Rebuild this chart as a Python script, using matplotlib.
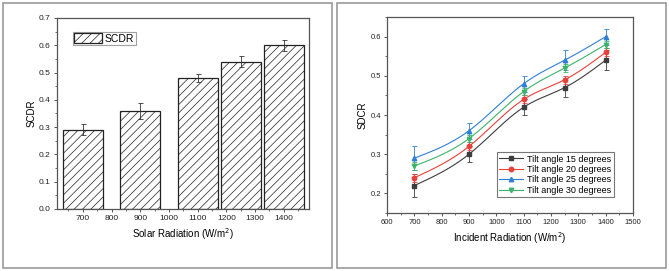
import numpy as np
import matplotlib
matplotlib.use("Agg")
from matplotlib import pyplot as plt
from matplotlib.patches import Rectangle
from matplotlib.ticker import MultipleLocator

plt.rcParams['font.family'] = ['Liberation Sans', 'DejaVu Sans']

# left panel: bar chart
bar_x = [700, 900, 1100, 1250, 1400]
bar_scdr = [0.29, 0.36, 0.48, 0.54, 0.60]
bar_err = [0.02, 0.03, 0.015, 0.02, 0.02]

# right panel: lines
rad = [700, 900, 1100, 1250, 1400]
tilt15 = [0.22, 0.30, 0.42, 0.47, 0.54]
tilt20 = [0.24, 0.32, 0.44, 0.49, 0.56]
tilt25 = [0.29, 0.36, 0.48, 0.54, 0.60]
tilt30 = [0.27, 0.34, 0.46, 0.52, 0.58]
err15 = [0.03, 0.02, 0.02, 0.025, 0.025]
err20 = [0.01, 0.01, 0.01, 0.01, 0.01]
err25 = [0.03, 0.02, 0.02, 0.025, 0.02]
err30 = [0.01, 0.01, 0.01, 0.01, 0.01]
labels = ['Tilt angle 15 degrees', 'Tilt angle 20 degrees',
          'Tilt angle 25 degrees', 'Tilt angle 30 degrees']


def spline(x, y, n=200):
    # natural cubic spline through the points, for drawing the curve
    x = np.asarray(x, float)
    y = np.asarray(y, float)
    k = len(x)
    h = np.diff(x)
    A = np.zeros((k, k))
    b = np.zeros(k)
    A[0, 0] = A[-1, -1] = 1
    for i in range(1, k - 1):
        A[i, i - 1] = h[i - 1]
        A[i, i] = 2 * (h[i - 1] + h[i])
        A[i, i + 1] = h[i]
        b[i] = 6 * ((y[i + 1] - y[i]) / h[i] - (y[i] - y[i - 1]) / h[i - 1])
    M = np.linalg.solve(A, b)
    xs = np.linspace(x[0], x[-1], n)
    idx = np.clip(np.searchsorted(x, xs) - 1, 0, k - 2)
    x0, x1 = x[idx], x[idx + 1]
    hh = x1 - x0
    t0, t1 = x1 - xs, xs - x0
    ys = (M[idx] * t0**3 + M[idx + 1] * t1**3) / (6 * hh) \
        + (y[idx] / hh - M[idx] * hh / 6) * t0 \
        + (y[idx + 1] / hh - M[idx + 1] * hh / 6) * t1
    return xs, ys


fig = plt.figure(figsize=(6.69, 2.71), dpi=100)

# panel frames
for x0 in (0.004, 0.504):
    fig.patches.append(Rectangle((x0, 0.01), 0.492, 0.98, transform=fig.transFigure,
                                 fill=False, edgecolor='#9a9a9a', lw=1.2))

spine_c = '#555555'


def style(ax, fs):
    for s in ax.spines.values():
        s.set_color(spine_c)
        s.set_linewidth(0.9)
    ax.tick_params(which='major', direction='out', length=2.5, width=0.7,
                   color=spine_c, labelsize=fs, pad=2, top=False, right=False,
                   labelcolor='#222222')
    ax.tick_params(which='minor', direction='out', length=1.5, width=0.6,
                   color=spine_c, top=False, right=False)


# ---- left
ax1 = fig.add_axes([0.0852, 0.2288, 0.3767, 0.7048])
plt.rcParams['hatch.linewidth'] = 0.5
ax1.bar(bar_x, bar_scdr, width=140, color='white', edgecolor='#222222', lw=0.9,
        hatch='////', label='SCDR', yerr=bar_err,
        error_kw=dict(ecolor='#333333', elinewidth=0.6, capsize=1.8, capthick=0.6))
ax1.set_xlim(610, 1488)
ax1.set_ylim(0, 0.7)
ax1.set_xticks(range(700, 1401, 100))
ax1.xaxis.set_minor_locator(MultipleLocator(50))
ax1.yaxis.set_major_locator(MultipleLocator(0.1))
ax1.yaxis.set_minor_locator(MultipleLocator(0.05))
ax1.yaxis.set_major_formatter(plt.FuncFormatter(lambda v, p: f'{v:.1f}'))
style(ax1, 6)
ax1.set_xlabel('Solar Radiation (W/m$^2$)', fontsize=7, labelpad=3)
ax1.set_ylabel('SCDR', fontsize=7, labelpad=2)
leg1 = ax1.legend(loc='upper left', bbox_to_anchor=(0.063, 0.927), borderaxespad=0,
                  fontsize=7.5, fancybox=False, edgecolor='#888888', borderpad=0.15,
                  handlelength=2.6, handleheight=1.0, handletextpad=0.3)
leg1.get_frame().set_linewidth(0.8)

# ---- right
ax2 = fig.add_axes([0.5785, 0.214, 0.3677, 0.723])
series = [tilt15, tilt20, tilt25, tilt30]
errs = [err15, err20, err25, err30]
colors = ['#3d3d3d', '#e8403a', '#2f7fd6', '#3cb36a']
markers = ['s', 'o', '^', 'v']
for ys, es, c, m, lab in zip(series, errs, colors, markers, labels):
    sx, sy = spline(rad, ys)
    ax2.plot(sx, sy, color=c, lw=0.8)
    ax2.errorbar(rad, ys, yerr=es, fmt='none', ecolor=c, elinewidth=0.6,
                 capsize=1.8, capthick=0.6)
    ax2.plot(rad, ys, ls='none', marker=m, ms=3.2, color=c)
    ax2.plot([], [], color=c, lw=0.8, marker=m, ms=3.2, label=lab)
ax2.set_xlim(600, 1500)
ax2.set_ylim(0.15, 0.65)
ax2.xaxis.set_major_locator(MultipleLocator(100))
ax2.xaxis.set_minor_locator(MultipleLocator(50))
ax2.yaxis.set_minor_locator(MultipleLocator(0.05))
ax2.set_yticks([0.2, 0.3, 0.4, 0.5, 0.6])
ax2.yaxis.set_major_formatter(plt.FuncFormatter(lambda v, p: f'{v:.1f}'))
style(ax2, 5.5)
ax2.set_xlabel('Incident Radiation (W/m$^2$)', fontsize=7, labelpad=3)
ax2.set_ylabel('SDCR', fontsize=7, labelpad=2)
leg2 = ax2.legend(loc='lower left', bbox_to_anchor=(0.447, 0.082), borderaxespad=0,
                  fontsize=6.5, fancybox=False, edgecolor='#555555', borderpad=0.25,
                  handlelength=2.6, handletextpad=0.5, labelspacing=0.15)
leg2.get_frame().set_linewidth(0.8)

fig.savefig('out.png', dpi=100)
